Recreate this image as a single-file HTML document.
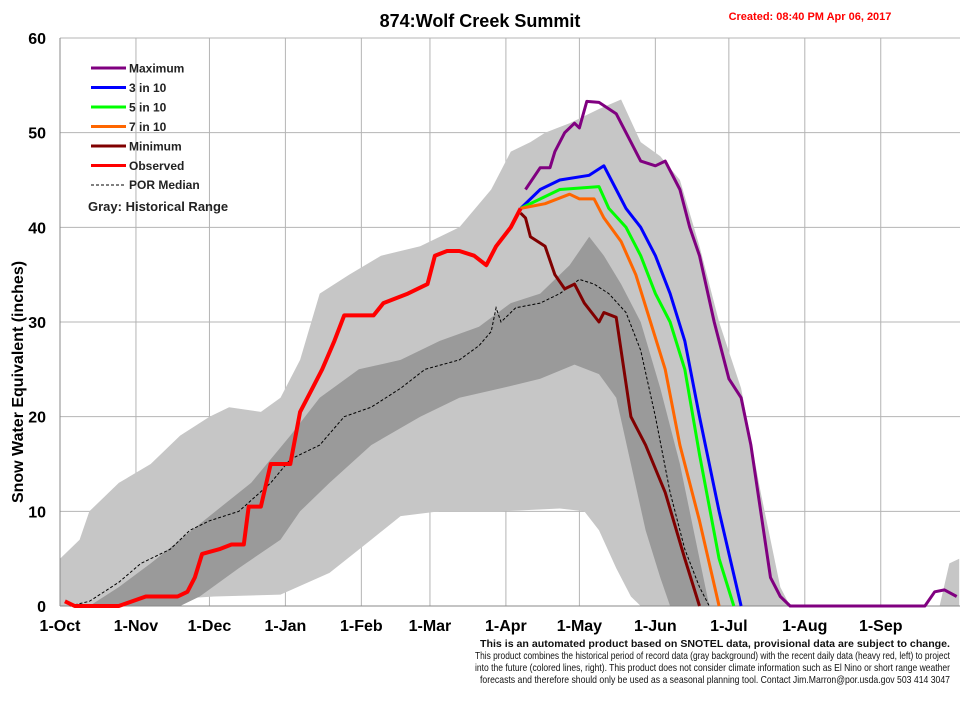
<!DOCTYPE html>
<html><head><meta charset="utf-8"><style>
body{margin:0;background:#fff;}
svg{display:block;font-family:"Liberation Sans",Arial,sans-serif;}
</style></head><body>
<svg id="chart" width="960" height="714" viewBox="0 0 960 714"></svg>
<script>
const monthLabels=["1-Oct","1-Nov","1-Dec","1-Jan","1-Feb","1-Mar","1-Apr","1-May","1-Jun","1-Jul","1-Aug","1-Sep"];
const monthDays=[0,31,61,92,123,151,182,212,243,273,304,335];
const yTicks=[0,10,20,30,40,50,60];
const rangeMaxD=[0,4,8,12,24,37,49,61,69,82,90,98,106,118,131,147,163,176,184,192,198,208,220,229,237,245,253,261,269,278,286,294,298,359,363,367];
const rangeMaxV=[5,6,7,10,13,15,18,20,21,20.5,22,26,33,35,37,38,40,44,48,49,50,51,52.5,53.5,49,47.5,45,38,30,23,12,2,0,0,4.5,5];
const rangeMinD=[0,63,90,110,127,139,155,180,204,214,220,227,233,237,367];
const rangeMinV=[0,1,1.2,3.5,7,9.5,10,10,10.3,10,8,4,1,0,0];
const darkHiD=[12,24,37,49,61,78,94,106,122,139,155,171,184,196,208,216,222,229,237,245,253,261,265];
const darkHiV=[0,2,4.5,7,9.5,13,18,22,25,26,28,29.5,32,33,36,39,37,34,30,23,15,5,0];
const darkLoD=[12,49,57,73,90,98,110,127,147,163,180,196,210,220,227,233,239,245,249,265];
const darkLoV=[0,0,1,4,7,10,13,17,20,22,23,24,25.5,24.5,22,15,8,3,0,0];
const medD=[4,12,24,33,45,53,61,73,86,94,106,116,127,139,149,163,171,176,178,180,186,196,204,212,218,224,231,237,243,249,255,261,265];
const medV=[0,0.5,2.5,4.5,6,8,9,10,13,15.5,17,20,21,23,25,26,27.5,29,31.5,30,31.5,32,33,34.5,34,33,31,27,20,12,6,2,0];
const obsD=[2,6,24,35,48,52,55,58,65,70,75,77,82,86,94,98,103,107,112,116,128,132,142,150,153,158,163,169,174,178,184,188];
const obsV=[0.5,0,0,1,1,1.5,3,5.5,6,6.5,6.5,10.5,10.5,15,15,20.5,23,25,28,30.7,30.7,32,33,34,37,37.5,37.5,37,36,38,40,42];
const maxD=[190,196,200,202,206,210,212,215,220,227,233,237,243,247,253,257,261,267,273,278,282,286,290,294,298,353,357,361,366];
const maxV=[44,46.3,46.3,48,50,51,50.5,53.3,53.2,52,49,47,46.5,47,44,40,37,30,24,22,17,10,3,1,0,0,1.5,1.7,1];
const p30D=[188,196,204,216,222,227,231,237,243,249,255,261,269,278];
const p30V=[42,44,45,45.5,46.5,44,42,40,37,33,28,20,10,0];
const p50D=[188,204,220,224,231,237,243,249,255,261,269,275];
const p50V=[42,44,44.3,42,40,37,33,30,25,16,5,0];
const p70D=[188,198,208,212,218,222,229,235,241,247,253,261,269];
const p70V=[42,42.5,43.5,43,43,41,38.5,35,30,25,17,9,0];
const minD=[188,190,192,198,202,206,210,214,220,222,227,233,239,247,255,261];
const minV=[41.5,41,39,38,35,33.5,34,32,30,31,30.5,20,17,12,5,0];

const L=60,R=960,T=38,B=606;
const x=d=>L+d*2.45;
const y=v=>B-(v/60)*(B-T);
const svg=document.getElementById('chart');
const NS="http://www.w3.org/2000/svg";
function mk(tag,attrs,name,text){const e=document.createElementNS(NS,tag);for(const k in attrs)e.setAttribute(k,attrs[k]);


if(text!==undefined)e.textContent=text;svg.appendChild(e);return e;}
function pts(D,V){return D.map((d,i)=>x(d).toFixed(1)+","+y(V[i]).toFixed(1));}
function band(D1,V1,D2,V2){return pts(D1,V1).concat(pts(D2,V2).reverse()).join(" ");}

yTicks.forEach(t=>{if(t>0)mk('line',{x1:L,x2:R,y1:y(t),y2:y(t),stroke:'#b4b4b4','stroke-width':1},'gridline-y-'+t);});
monthDays.forEach((d,i)=>{if(i>0)mk('line',{x1:x(d),x2:x(d),y1:T,y2:B,stroke:'#b4b4b4','stroke-width':1},'gridline-x-'+monthLabels[i]);});
mk('polygon',{points:band(rangeMaxD,rangeMaxV,rangeMinD,rangeMinV),fill:'#c6c6c6'},'historical-range');
mk('polygon',{points:band(darkHiD,darkHiV,darkLoD,darkLoV),fill:'#9a9a9a'},'interquartile-range');
mk('line',{x1:L,x2:R,y1:B,y2:B,stroke:'#888','stroke-width':1},'x-axis');
mk('line',{x1:L,x2:L,y1:T,y2:B,stroke:'#888','stroke-width':1},'y-axis');
mk('polyline',{points:pts(medD,medV).join(" "),fill:'none',stroke:'#000','stroke-width':1,'stroke-dasharray':'3,2'},'por-median-line');
const series=[[maxD,maxV,'#800080','maximum-line'],[p30D,p30V,'#0000ff','3-in-10-line'],[p50D,p50V,'#00ff00','5-in-10-line'],[p70D,p70V,'#ff6600','7-in-10-line'],[minD,minV,'#800000','minimum-line'],[obsD,obsV,'#ff0000','observed-line']];
series.forEach(s=>mk('polyline',{points:pts(s[0],s[1]).join(" "),fill:'none',stroke:s[2],'stroke-width':s[3]==='observed-line'?4:3,'stroke-linejoin':'round'},s[3]));
yTicks.forEach(t=>mk('text',{x:46,y:y(t)+6,'text-anchor':'end','font-size':16,'font-weight':'bold'},'y-tick-'+t,String(t)));
monthDays.forEach((d,i)=>mk('text',{x:x(d),y:631,'text-anchor':'middle','font-size':16,'font-weight':'bold'},'x-tick-'+monthLabels[i],monthLabels[i]));
mk('text',{x:23,y:382,transform:'rotate(-90 23 382)','text-anchor':'middle','font-size':16,'font-weight':'bold'},'y-axis-title','Snow Water Equivalent (inches)');
mk('text',{x:480,y:27,'text-anchor':'middle','font-size':18,'font-weight':'bold'},'chart-title','874:Wolf Creek Summit');
mk('text',{x:810,y:20,'text-anchor':'middle','font-size':11,'font-weight':'bold',fill:'#ff0000'},'created-date','Created: 08:40 PM Apr 06, 2017');
const leg=[['Maximum','#800080'],['3 in 10','#0000ff'],['5 in 10','#00ff00'],['7 in 10','#ff6600'],['Minimum','#800000'],['Observed','#ff0000']];
leg.forEach((l,i)=>{const yy=68+i*19.5;
mk('line',{x1:91,x2:126,y1:yy,y2:yy,stroke:l[1],'stroke-width':3},'legend-swatch-'+i);
mk('text',{x:129,y:yy+4.5,'font-size':12,'font-weight':'bold',fill:'#222'},'legend-entry-'+i,l[0]);});
mk('line',{x1:91,x2:126,y1:185,y2:185,stroke:'#000','stroke-width':1,'stroke-dasharray':'3,2'},'legend-swatch-median');
mk('text',{x:129,y:189,'font-size':12,'font-weight':'bold',fill:'#222'},'legend-entry-median','POR Median');
mk('text',{x:88,y:211,'font-size':13,'font-weight':'bold',fill:'#222'},'legend-gray-note','Gray: Historical Range');
const notes=[['This is an automated product based on SNOTEL data, provisional data are subject to change.','bold',647],
['This product combines the historical period of record data (gray background) with the recent daily data (heavy red, left) to project','normal',659],
['into the future (colored lines, right). This product does not consider climate information such as El Nino or short range weather','normal',671],
['forecasts and therefore should only be used as a seasonal planning tool. Contact Jim.Marron@por.usda.gov 503 414 3047','normal',683]];
notes.forEach((n,i)=>mk('text',{x:950,y:n[2],'text-anchor':'end','font-size':10.5,'font-weight':n[1],fill:'#111',textLength:i==0?470:i==3?470:475,lengthAdjust:'spacingAndGlyphs'},'footnote-'+i,n[0]));
</script>
</body></html>
